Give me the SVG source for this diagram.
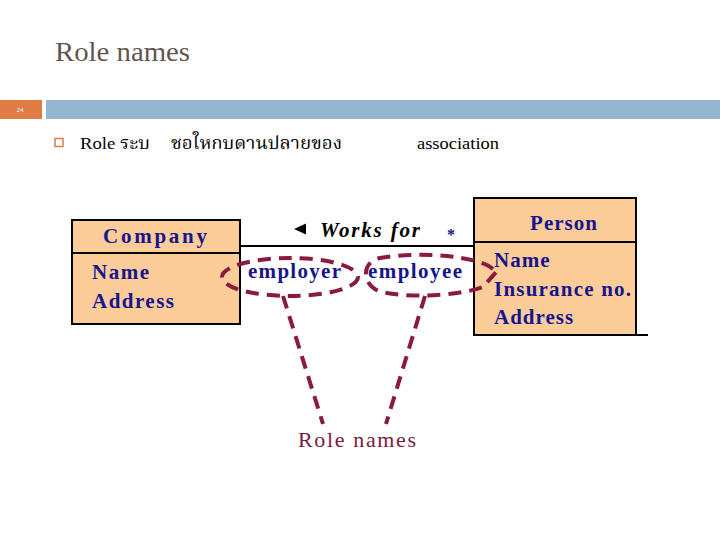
<svg xmlns="http://www.w3.org/2000/svg" width="720" height="540" viewBox="0 0 720 540">
<style>
.ser{font-family:"Liberation Serif","Times New Roman",serif}
.cls{fill:#fccc99;stroke:#000;stroke-width:2}
.attr{font-family:"Liberation Serif",serif;font-weight:bold;font-size:21px;fill:#15158c;letter-spacing:1px}
.role{font-family:"Liberation Serif",serif;font-weight:bold;font-size:21px;fill:#15158c}
.dash{fill:none;stroke:#8b1a40;stroke-width:4;stroke-dasharray:13 8}
</style>
<rect width="720" height="540" fill="#fff"/>
<text x="55" y="61" class="ser" font-size="27" fill="#5f574f" textLength="135" lengthAdjust="spacingAndGlyphs">Role names</text>
<rect x="0" y="100" width="42" height="19" fill="#e07b45"/>
<text x="20" y="112" class="ser" font-size="7" fill="#fff" text-anchor="middle">24</text>
<rect x="46" y="100" width="674" height="19" fill="#94b4d1"/>
<rect x="55" y="138.5" width="8" height="8" fill="none" stroke="#e07b45" stroke-width="1.5"/>
<text y="149" font-size="17" fill="#000" font-family="Liberation Serif,Noto Serif Thai,Noto Sans Thai,serif"><tspan x="80" textLength="70" lengthAdjust="spacingAndGlyphs">Role ระบ</tspan><tspan x="171" textLength="171" lengthAdjust="spacingAndGlyphs">ชอใหกบดานปลายของ</tspan><tspan x="417" textLength="82" lengthAdjust="spacingAndGlyphs">association</tspan></text>
<g id="company">
<rect class="cls" x="72" y="220" width="168" height="104"/>
<line x1="72" y1="253" x2="240" y2="253" stroke="#000" stroke-width="2"/>
<text x="103" y="243" class="attr" textLength="105">Company</text>
<text x="92" y="279" class="attr" textLength="58">Name</text>
<text x="92" y="308" class="attr" textLength="83">Address</text>
</g>
<g id="person">
<rect class="cls" x="474" y="198" width="162" height="137"/>
<line x1="474" y1="242" x2="636" y2="242" stroke="#000" stroke-width="2"/>
<line x1="636" y1="335" x2="648" y2="335" stroke="#000" stroke-width="2"/>
<text x="564" y="230" class="attr" text-anchor="middle">Person</text>
<text x="494" y="267" class="attr">Name</text>
<text x="494" y="296" class="attr" textLength="138">Insurance no.</text>
<text x="494" y="324" class="attr">Address</text>
</g>
<g id="connectors">
<line x1="240" y1="246" x2="474" y2="246" stroke="#000" stroke-width="2"/>
<polygon points="294,229 306,223.5 306,234.5" fill="#000"/>
<text x="320" y="237" class="ser" font-size="21" font-style="italic" font-weight="bold" fill="#000" textLength="100">Works for</text>
<text x="451" y="240" class="ser" font-size="16" font-weight="bold" fill="#15158c" text-anchor="middle">*</text>
<text x="248" y="278" class="role" textLength="93">employer</text>
<text x="368" y="278" class="role" textLength="94">employee</text>
<ellipse class="dash" cx="290" cy="277" rx="68" ry="19"/>
<path class="dash" d="M 493 269 C 478 256, 420 251, 380 258 C 360 262, 362 287, 382 292 C 420 300, 468 293, 483 287 L 497 271"/>
<line class="dash" x1="283" y1="296" x2="323" y2="424"/>
<line class="dash" x1="425" y1="296" x2="386" y2="424"/>
<text x="298" y="447" class="ser" font-size="22" fill="#7a1a3c" textLength="118">Role names</text>
</g>
</svg>
